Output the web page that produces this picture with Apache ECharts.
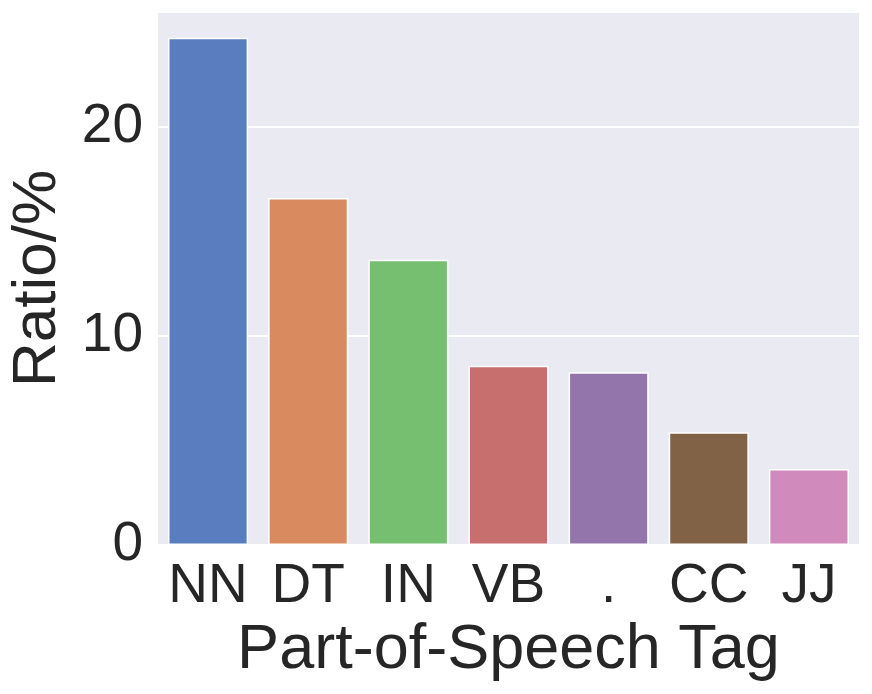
<!DOCTYPE html>
<html>
<head>
<meta charset="utf-8">
<script src="https://cdn.jsdelivr.net/npm/echarts@6/dist/echarts.min.js"></script>
<style>html,body{margin:0;padding:0;background:#fff;}#c{width:872px;height:694px;}</style>
</head>
<body>
<div id="c"></div>
<script>
const categories = ['NN', 'DT', 'IN', 'VB', '.', 'CC', 'JJ'];
const values = [24.27, 16.6, 13.65, 8.58, 8.26, 5.39, 3.64];
const barColors = ['#597dbf', '#d98b5f', '#76bf71', '#c76e6e', '#9475ab', '#826246', '#d08abb'];
const yTicks = [0, 10, 20];
const xTitle = 'Part-of-Speech Tag';
const yTitle = 'Ratio/%';

const FONT = '"Liberation Sans", Arial, sans-serif';
const TXT = '#262626';

const chart = echarts.init(document.getElementById('c'), null, {renderer: 'canvas'});
chart.setOption({
  animation: false,
  backgroundColor: '#ffffff',
  grid: {
    left: 158, right: 13, top: 12, bottom: 149,
    containLabel: false,
    outerBoundsMode: 'none',
    show: true, backgroundColor: '#eaeaf2', borderWidth: 0
  },
  xAxis: {
    type: 'category',
    data: categories,
    axisLine: {show: false},
    axisTick: {show: false},
    axisLabel: {color: TXT, fontSize: 55, fontFamily: FONT, margin: 14, interval: 0},
    name: xTitle,
    nameLocation: 'middle',
    nameGap: 74,
    nameTextStyle: {color: TXT, fontSize: 63, fontFamily: FONT}
  },
  yAxis: {
    type: 'value',
    min: 0,
    max: 25.5,
    interval: 10,
    axisLine: {show: false},
    axisTick: {show: false},
    axisLabel: {
      color: TXT, fontSize: 55, fontFamily: FONT, margin: 15,
      showMaxLabel: false,
      formatter: function (v) { return yTicks.indexOf(v) >= 0 ? String(v) : ''; }
    },
    splitLine: {show: true, lineStyle: {color: '#ffffff', width: 2}},
    name: yTitle,
    nameLocation: 'middle',
    nameRotate: 90,
    nameGap: 89,
    nameTextStyle: {color: TXT, fontSize: 62, fontFamily: FONT}
  },
  series: [{
    type: 'bar',
    barWidth: '80%',
    data: values.map((v, i) => ({
      value: v,
      itemStyle: {color: barColors[i], borderColor: '#ffffff', borderWidth: 1.5}
    }))
  }]
});
</script>
</body>
</html>
